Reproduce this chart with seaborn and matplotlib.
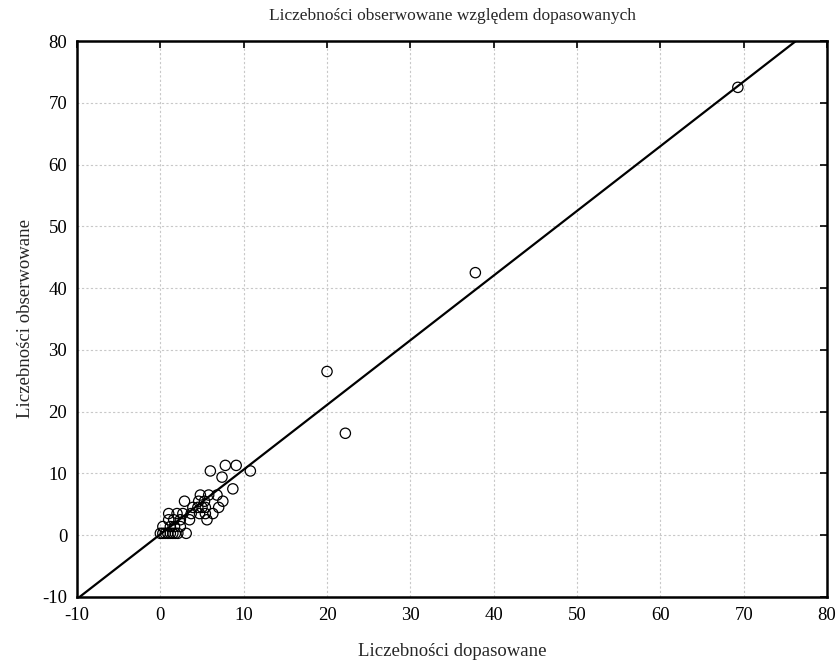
import matplotlib
matplotlib.use("Agg")
import matplotlib.pyplot as plt
import seaborn as sns
import pandas as pd

# data
fitted = [0.0, 0.3, 0.6, 0.9, 1.2, 1.5, 1.8, 2.1, 3.1,
          0.3, 1.2, 1.7, 2.4,
          1.0, 1.6, 2.4, 3.5, 5.6,
          1.0, 2.0, 2.7, 3.7, 4.7, 5.4, 6.3,
          3.9, 4.5, 5.0, 5.4, 7.0,
          2.9, 4.6, 5.3, 7.5,
          4.8, 5.8, 6.8,
          8.7, 7.4, 6.0, 10.8, 7.8, 9.1,
          22.2, 20.0, 37.8, 69.3]
observed = [0.3, 0.3, 0.3, 0.3, 0.3, 0.3, 0.3, 0.3, 0.3,
            1.4, 1.4, 1.4, 1.4,
            2.5, 2.5, 2.5, 2.5, 2.5,
            3.5, 3.5, 3.5, 3.5, 3.5, 3.5, 3.5,
            4.5, 4.5, 4.5, 4.5, 4.5,
            5.5, 5.5, 5.5, 5.5,
            6.5, 6.5, 6.5,
            7.5, 9.4, 10.4, 10.4, 11.3, 11.3,
            16.5, 26.5, 42.5, 72.5]
line_intercept = 0.15
line_slope = 1.047
x_ticks = [-10, 0, 10, 20, 30, 40, 50, 60, 70, 80]
y_ticks = [-10, 0, 10, 20, 30, 40, 50, 60, 70, 80]

title = "Liczebności obserwowane względem dopasowanych"
xlabel = "Liczebności dopasowane"
ylabel = "Liczebności obserwowane"

sns.set_style("white")
plt.rcParams['font.family'] = ['Liberation Serif', 'DejaVu Serif']

df = pd.DataFrame({"fitted": fitted, "observed": observed})

fig = plt.figure(figsize=(8.38, 6.67), dpi=100)
ax = fig.add_axes([0.0919, 0.105, 0.895, 0.8335])

ax.grid(True, color="#c8c8c8", linestyle=(0, (2, 2)), linewidth=0.8)
ax.set_axisbelow(True)

ax.axline((0, line_intercept), slope=line_slope, color="black", linewidth=1.6, zorder=2)

sns.scatterplot(data=df, x="fitted", y="observed", ax=ax, marker="o",
                s=55, facecolor="none", edgecolor="black", linewidth=0.9, zorder=3)

ax.set_xlim(-10, 80)
ax.set_ylim(-10, 80)
ax.set_xticks(x_ticks)
ax.set_yticks(y_ticks)
ax.set_xticklabels([str(t) for t in x_ticks])
ax.set_yticklabels([str(t) for t in y_ticks])
ax.tick_params(direction="in", length=5, width=1.2, top=True, right=True,
               labelsize=13.5, colors="black", pad=7)
for s in ax.spines.values():
    s.set_linewidth(1.8)
    s.set_color("black")

ax.set_title(title, fontsize=12.5, pad=15)
ax.set_xlabel(xlabel, fontsize=13.5, labelpad=14)
ax.set_ylabel(ylabel, fontsize=13.5, labelpad=6)

fig.savefig("out.png", dpi=100)
